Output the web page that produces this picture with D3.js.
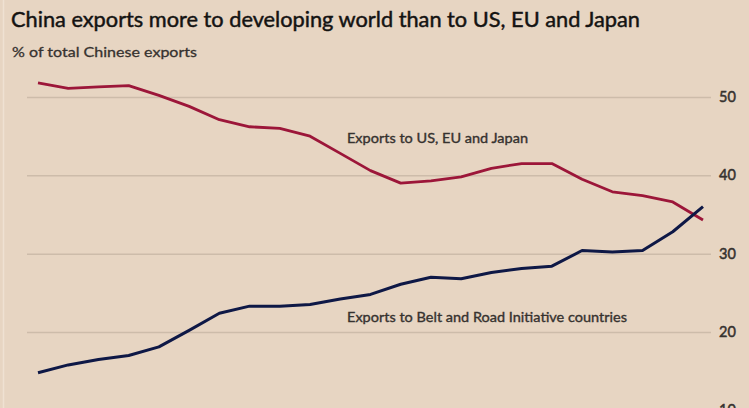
<!DOCTYPE html>
<html>
<head>
<meta charset="utf-8">
<script src="https://cdn.jsdelivr.net/npm/d3@7"></script>
<style>
  html, body { margin: 0; padding: 0; background: #e7d5c2; }
  svg { display: block; }
</style>
</head>
<body>
<svg id="chart" width="749" height="408"></svg>
<script>
// ---- data ----
const years = [2000,2001,2002,2003,2004,2005,2006,2007,2008,2009,2010,2011,2012,2013,2014,2015,2016,2017,2018,2019,2020,2021,2022];
const usEuJapan = [51.8,51.1,51.3,51.45,50.2,48.8,47.1,46.2,46.0,45.0,42.8,40.6,39.0,39.3,39.8,40.9,41.5,41.5,39.5,37.9,37.4,36.6,34.3];
const beltRoad  = [14.8,15.8,16.5,17.0,18.1,20.2,22.4,23.3,23.3,23.5,24.2,24.8,26.1,27.0,26.8,27.6,28.1,28.4,30.4,30.2,30.4,32.8,36.0];
const yTicks = [10,20,30,40,50];
const title = "China exports more to developing world than to US, EU and Japan";
const subtitle = "% of total Chinese exports";
const labelUs = "Exports to US, EU and Japan";
const labelBri = "Exports to Belt and Road Initiative countries";

const svg = d3.select("#chart");
const W = 749, H = 408;
const FONT = "Lato, 'Open Sans', sans-serif";

svg.append("rect").attr("width", W).attr("height", H).attr("fill", "#e7d5c2");
svg.append("line").attr("x1", 3.5).attr("x2", 3.5).attr("y1", 0).attr("y2", H)
  .attr("stroke", "#efe1d2").attr("stroke-width", 1.5);

const x = d3.scaleLinear().domain([2000, 2022]).range([38, 703]);
const y = d3.scaleLinear().domain([20, 50]).range([332, 97]);

// gridlines + right axis labels
const yAxis = d3.axisRight(y).tickValues(yTicks).tickSize(711 - 27).tickPadding(8);
const g = svg.append("g").attr("transform", "translate(27,0)").call(yAxis);
g.select(".domain").remove();
g.selectAll(".tick line").attr("stroke", "#cdbcaa").attr("stroke-width", 1.5);
g.selectAll(".tick text")
  .attr("fill", "#36322f")
  .attr("stroke", "#36322f").attr("stroke-width", 0.5)
  .attr("font-family", FONT)
  .attr("font-size", 14.5);

const line = d3.line().x((d, i) => x(years[i])).y(d => y(d));

svg.append("path").datum(usEuJapan).attr("d", line)
  .attr("fill", "none").attr("stroke", "#9c1639").attr("stroke-width", 2.8)
  .attr("stroke-linejoin", "round").attr("stroke-linecap", "butt");

svg.append("path").datum(beltRoad).attr("d", line)
  .attr("fill", "none").attr("stroke", "#0e1846").attr("stroke-width", 3)
  .attr("stroke-linejoin", "round").attr("stroke-linecap", "butt");

// titles
svg.append("text").attr("x", 11).attr("y", 27).text(title)
  .attr("font-family", FONT).attr("font-size", 21)
  .attr("fill", "#141312").attr("stroke", "#141312").attr("stroke-width", 0.45)
  .attr("textLength", 629).attr("lengthAdjust", "spacingAndGlyphs");
svg.append("text").attr("x", 12).attr("y", 57).text(subtitle)
  .attr("font-family", FONT).attr("font-size", 14)
  .attr("fill", "#36322f").attr("stroke", "#36322f").attr("stroke-width", 0.3)
  .attr("textLength", 185).attr("lengthAdjust", "spacingAndGlyphs");

// series labels
svg.append("text").attr("x", 347).attr("y", 142.5).text(labelUs)
  .attr("font-family", FONT).attr("font-size", 13.5)
  .attr("fill", "#36322f").attr("stroke", "#36322f").attr("stroke-width", 0.35)
  .attr("textLength", 181).attr("lengthAdjust", "spacingAndGlyphs");
svg.append("text").attr("x", 347).attr("y", 321.5).text(labelBri)
  .attr("font-family", FONT).attr("font-size", 13.5)
  .attr("fill", "#36322f").attr("stroke", "#36322f").attr("stroke-width", 0.35)
  .attr("textLength", 280).attr("lengthAdjust", "spacingAndGlyphs");
</script>
</body>
</html>
